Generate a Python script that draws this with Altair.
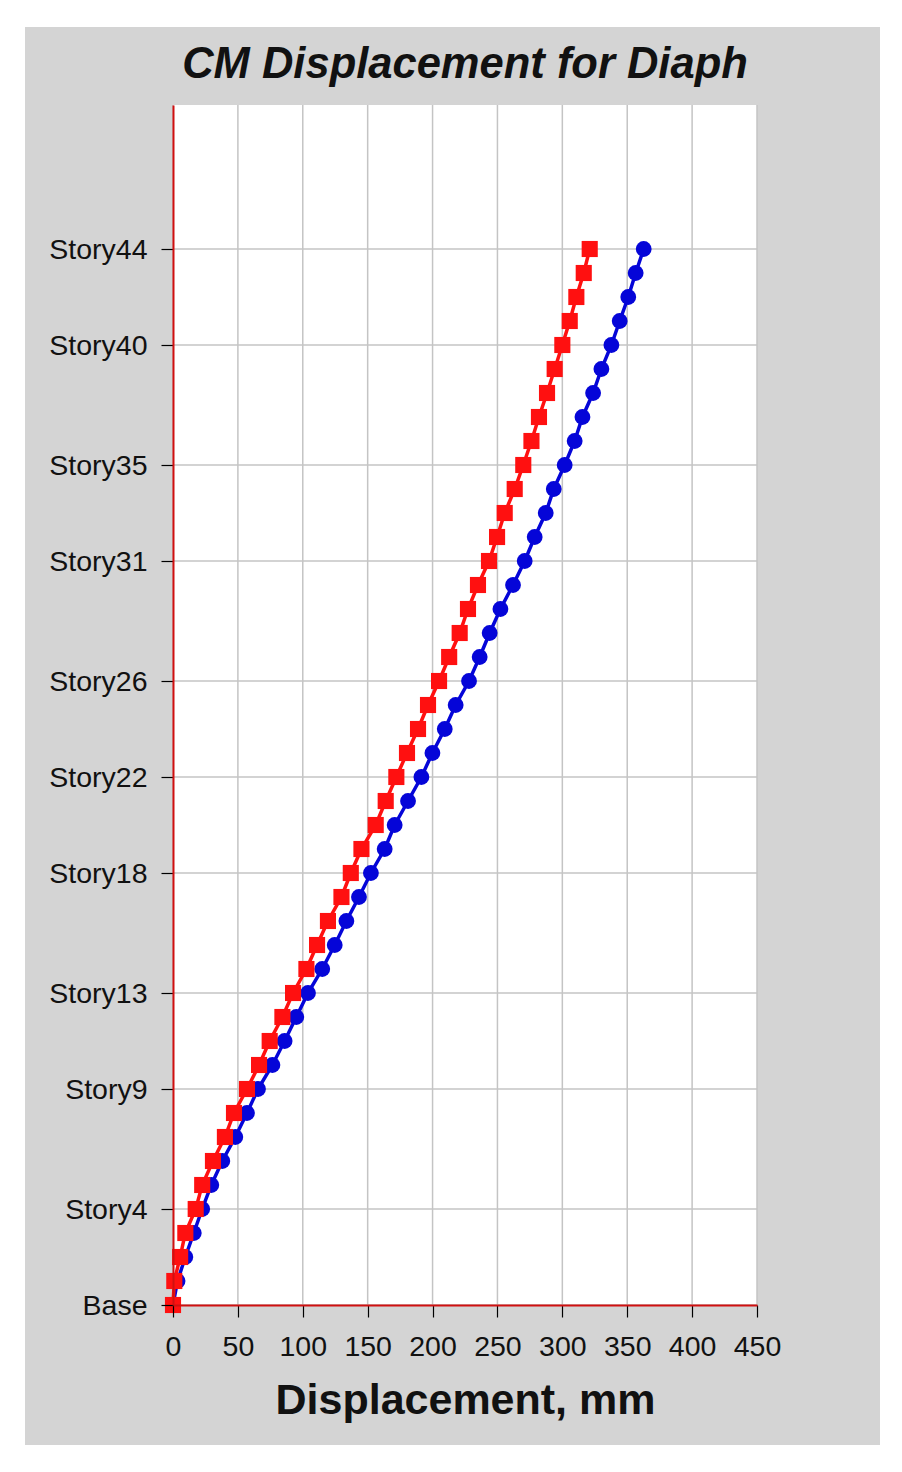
import altair as alt
import pandas as pd

# ---- data ----
stories = list(range(45))  # Base = 0 ... Story44 = 44
red_disp = [0, 1, 5.5, 9.5, 17.5, 22.5, 30.8, 40, 47, 57,
            66.3, 74.5, 84.3, 92.5, 102.8, 111, 119.4, 129.8, 137, 145.2,
            156.2, 163.9, 172.1, 180.3, 188.8, 196.5, 205, 212.8, 220.9, 227.3,
            235, 243.5, 249.7, 255.6, 263.3, 269.9, 276.2, 282, 288.2, 294.1,
            300, 305.7, 310.8, 316.5, 321.1]
blue_disp = [0, 3.5, 9.5, 16, 22.5, 29.5, 38, 48, 57, 65.5,
             76.6, 86, 95, 104, 115, 124.6, 133.6, 143.3, 152.5, 163.1,
             170.8, 181.1, 191.4, 199.9, 209.4, 217.8, 228.1, 236.3, 244, 252.3,
             262, 271, 278.7, 287.2, 293.4, 301.8, 309.5, 315.5, 323.7, 330.1,
             337.8, 344.2, 350.8, 356.5, 362.7]
series_names = ["Series 1", "Series 2"]
series_colors = ["#ff1010", "#0505d8"]
series_shapes = ["square", "circle"]

y_tick_values = [0, 4, 9, 13, 18, 22, 26, 31, 35, 40, 44]
y_tick_labels = ["Base", "Story4", "Story9", "Story13", "Story18", "Story22",
                 "Story26", "Story31", "Story35", "Story40", "Story44"]
x_tick_values = [0, 50, 100, 150, 200, 250, 300, 350, 400, 450]

title_text = "CM Displacement for Diaph"
x_title = "Displacement, mm"

# ---- build tables ----
df = pd.concat([
    pd.DataFrame({"story": stories, "disp": red_disp, "series": series_names[0]}),
    pd.DataFrame({"story": stories, "disp": blue_disp, "series": series_names[1]}),
], ignore_index=True)

label_expr = ""
for v, lab in zip(y_tick_values, y_tick_labels):
    label_expr += f"datum.value == {v} ? '{lab}' : "
label_expr += "''"

FONT = "Liberation Sans"
W, H = 584, 1200

xscale = alt.Scale(domain=[0, 450], nice=False, zero=False)
yscale = alt.Scale(domain=[0, 50], nice=False, zero=False)
color_scale = alt.Scale(domain=series_names, range=series_colors)
shape_scale = alt.Scale(domain=series_names, range=series_shapes)

x_axis = alt.Axis(values=x_tick_values, grid=False, zindex=1,
                  domainColor="#d01010", domainWidth=2,
                  tickColor="#000000", tickSize=12, tickWidth=1.2,
                  labelFont=FONT, labelFontSize=28.5, labelColor="#111111",
                  labelPadding=15, labelFlush=False,
                  title=x_title, titleFont=FONT, titleFontSize=43,
                  titleFontWeight="bold", titleColor="#111111", titlePadding=19)
y_axis = alt.Axis(values=y_tick_values, grid=False, zindex=1,
                  labelExpr=label_expr,
                  domainColor="#d01010", domainWidth=2,
                  tickColor="#000000", tickSize=12, tickWidth=1.2,
                  labelFont=FONT, labelFontSize=28.5, labelColor="#111111",
                  labelPadding=14, title=None)

one = pd.DataFrame({"label": [title_text]})

bg_gray = alt.Chart(one).mark_rect(color="#d4d4d4").encode(
    x=alt.value(-148), x2=alt.value(707), y=alt.value(-78), y2=alt.value(1340))
bg_white = alt.Chart(one).mark_rect(color="#ffffff").encode(
    x=alt.value(0), x2=alt.value(W), y=alt.value(0), y2=alt.value(H))
title_mark = alt.Chart(one).mark_text(
    font=FONT, fontSize=43.5, fontWeight="bold", fontStyle="italic",
    color="#111111", align="center", baseline="alphabetic").encode(
    text="label:N", x=alt.value(W / 2), y=alt.value(-27))

vgrid = alt.Chart(pd.DataFrame({"v": x_tick_values})).mark_rule(
    color="#c4c4c4", strokeWidth=1.5).encode(
    x=alt.X("v:Q", scale=xscale, axis=x_axis))
hgrid = alt.Chart(pd.DataFrame({"v": y_tick_values})).mark_rule(
    color="#c4c4c4", strokeWidth=1.5).encode(
    y=alt.Y("v:Q", scale=yscale, axis=y_axis))


def series_layers(name, size):
    base = alt.Chart(df).transform_filter(alt.datum.series == name)
    enc = dict(
        x=alt.X("disp:Q", scale=xscale, axis=x_axis),
        y=alt.Y("story:Q", scale=yscale, axis=y_axis),
        color=alt.Color("series:N", scale=color_scale, legend=None),
    )
    line = base.mark_line(strokeWidth=3.5).encode(order="story:Q", **enc)
    pts = base.mark_point(filled=True, opacity=1, size=size).encode(
        shape=alt.Shape("series:N", scale=shape_scale, legend=None), **enc)
    return [line, pts]


layers = [bg_gray, bg_white, title_mark, vgrid, hgrid]
layers += series_layers(series_names[1], 250)
layers += series_layers(series_names[0], 260)

chart = alt.layer(*layers).properties(
    width=W, height=H,
    autosize=alt.AutoSizeParams(type="none"),
    padding={"left": 165, "top": 97, "right": 137, "bottom": 159},
    background="#ffffff",
).configure_view(stroke=None, fill=None)

chart.save("out.html", embed_options={"renderer": "svg", "actions": False})
